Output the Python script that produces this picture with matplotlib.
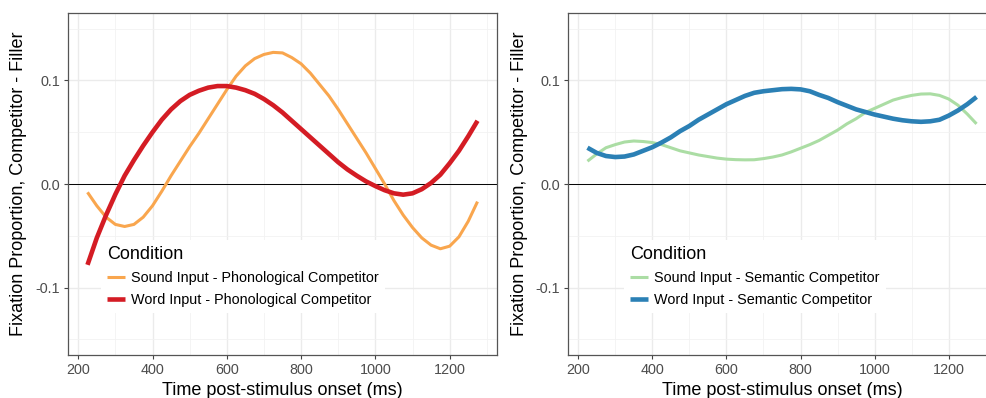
import matplotlib
matplotlib.use("Agg")
import matplotlib.pyplot as plt
from matplotlib.ticker import MultipleLocator

# --- データ (読み取り値) ---
time_ms = list(range(225, 1276, 25))

sound_phon = [-0.008, -0.021, -0.032, -0.039, -0.041, -0.039, -0.032, -0.021, -0.007, 0.008,
              0.022, 0.036, 0.049, 0.063, 0.077, 0.091, 0.104, 0.114, 0.121, 0.125,
              0.127, 0.1265, 0.122, 0.116, 0.107, 0.096, 0.085, 0.072, 0.058, 0.044,
              0.030, 0.015, 0.000, -0.016, -0.030, -0.042, -0.052, -0.059, -0.0625, -0.060,
              -0.051, -0.036, -0.017]
word_phon = [-0.078, -0.052, -0.030, -0.010, 0.008, 0.023, 0.037, 0.050, 0.062, 0.072,
             0.080, 0.086, 0.090, 0.093, 0.0945, 0.0945, 0.093, 0.0905, 0.087, 0.082,
             0.076, 0.069, 0.061, 0.053, 0.045, 0.037, 0.029, 0.021, 0.014, 0.008,
             0.0025, -0.002, -0.006, -0.009, -0.0103, -0.009, -0.005, 0.001, 0.009, 0.020,
             0.032, 0.046, 0.061]
sound_sem = [0.022, 0.029, 0.035, 0.038, 0.0405, 0.0415, 0.041, 0.040, 0.038, 0.035,
             0.032, 0.030, 0.028, 0.0265, 0.025, 0.024, 0.0235, 0.0233, 0.0234, 0.0245,
             0.026, 0.028, 0.031, 0.0345, 0.038, 0.042, 0.047, 0.052, 0.058, 0.063,
             0.069, 0.073, 0.077, 0.081, 0.0835, 0.0855, 0.0868, 0.087, 0.0855, 0.082,
             0.076, 0.0675, 0.058]
word_sem = [0.035, 0.030, 0.027, 0.026, 0.0265, 0.0285, 0.032, 0.0355, 0.040, 0.045,
            0.051, 0.056, 0.062, 0.067, 0.072, 0.077, 0.081, 0.085, 0.088, 0.0895,
            0.0905, 0.0915, 0.0918, 0.0913, 0.0895, 0.086, 0.083, 0.079, 0.0755, 0.072,
            0.0695, 0.067, 0.065, 0.063, 0.0615, 0.0605, 0.060, 0.0605, 0.062, 0.066,
            0.071, 0.077, 0.084]

x_ticks = [200, 400, 600, 800, 1000, 1200]
y_ticks = [-0.1, 0.0, 0.1]
y_tick_labels = ["-0.1", "0.0", "0.1"]

plt.rcParams["font.family"] = ["Liberation Sans", "DejaVu Sans"]
plt.rcParams["axes.unicode_minus"] = False

W, H = 986, 398
fig = plt.figure(figsize=(W / 100, H / 100), dpi=100)


def add_panel(left, top, right, bottom):
    # ピクセル指定で軸を配置
    return fig.add_axes([left / W, 1 - bottom / H, (right - left) / W, (bottom - top) / H])


panels = [
    (add_panel(68, 13, 497, 355),
     [("Sound Input - Phonological Competitor", sound_phon, "#F9A64E", 2.2),
      ("Word Input - Phonological Competitor", word_phon, "#D41C24", 3.3)],
     (0.077, 0.335)),
    (add_panel(568, 13, 996, 355),
     [("Sound Input - Semantic Competitor", sound_sem, "#ABDDA4", 2.2),
      ("Word Input - Semantic Competitor", word_sem, "#2B80B5", 3.3)],
     (0.131, 0.335)),
]

for ax, series, leg_pos in panels:
    ax.set_xlim(172.5, 1327.5)
    ax.set_ylim(-0.165, 0.165)
    ax.set_xticks(x_ticks)
    ax.set_yticks(y_ticks)
    ax.set_yticklabels(y_tick_labels)
    ax.xaxis.set_minor_locator(MultipleLocator(100))
    ax.yaxis.set_minor_locator(MultipleLocator(0.05))
    ax.set_axisbelow(True)
    ax.grid(which="major", color="#EBEBEB", linewidth=1.0)
    ax.grid(which="minor", color="#F2F2F2", linewidth=0.6)
    ax.tick_params(which="major", length=2.8, width=0.8, color="#444444",
                   labelcolor="#4D4D4D", labelsize=10.4, pad=3)
    ax.tick_params(which="minor", length=0)
    for sp in ax.spines.values():
        sp.set_color("#555555")
        sp.set_linewidth(0.9)

    ax.axhline(0, color="black", linewidth=0.7, zorder=1.5)
    for label, values, color, lw in series:
        ax.plot(time_ms, values, color=color, linewidth=lw, label=label,
                solid_capstyle="butt", solid_joinstyle="round", zorder=2)

    ax.set_xlabel("Time post-stimulus onset (ms)", fontsize=13, va="baseline")
    ax.xaxis.set_label_coords(0.5, -0.117)
    ax.set_ylabel("Fixation Proportion, Competitor - Filler", fontsize=13, va="center")
    ax.yaxis.set_label_coords(-49 / 429, 0.5)

    leg = ax.legend(loc="upper left", bbox_to_anchor=leg_pos, title="Condition",
                    title_fontsize=13, fontsize=10.4, frameon=True, facecolor="white",
                    edgecolor="none", framealpha=1, fancybox=False, alignment="left",
                    handlelength=1.25, handletextpad=0.45, labelspacing=0.55,
                    borderpad=0.4, borderaxespad=0)
    leg.set_zorder(3)

fig.savefig("out.png", dpi=100)
